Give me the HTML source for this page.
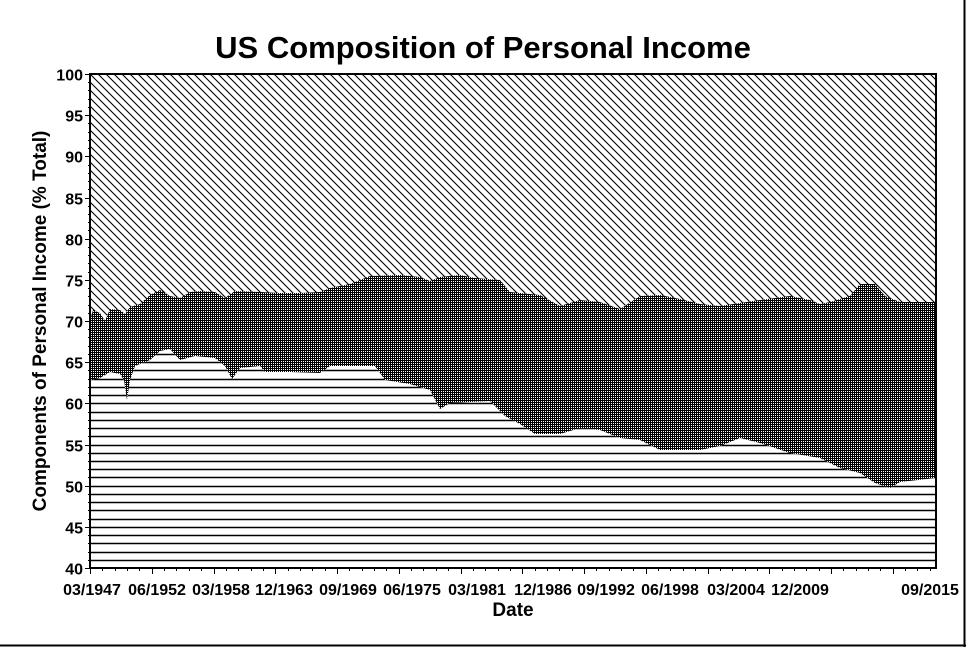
<!DOCTYPE html>
<html><head><meta charset="utf-8"><style>
html,body{margin:0;padding:0;background:#fff;}
svg{display:block;}
text{font-family:"Liberation Sans",sans-serif;font-weight:bold;fill:#000;}
</style></head><body>
<svg width="966" height="647" viewBox="0 0 966 647" xmlns="http://www.w3.org/2000/svg">
<defs>
<pattern id="hatch" width="8" height="8" patternUnits="userSpaceOnUse">
<path d="M-2,-2 L10,10 M-2,6 L2,10 M6,-2 L10,2" stroke="#000" stroke-width="1.1"/>
</pattern>
<pattern id="dots" width="2" height="2" patternUnits="userSpaceOnUse">
<rect width="2" height="2" fill="#000"/><rect x="1" y="1" width="1" height="1" fill="#fff"/>
</pattern>
<clipPath id="plot"><rect x="90" y="74" width="846" height="494"/></clipPath>
<clipPath id="low"><polygon points="936,478 900,482 890,488 875,483 860,473 840,468 820,458 790,453 760,443 740,438 720,446 700,450 660,450 640,440 620,438 600,430 580,428 560,434 535,434 520,424 505,416 490,401 470,402 450,403 440,409 430,390 420,387 410,384 385,380 375,366 330,366 320,373 290,372 265,372 260,366 240,368 232,379 225,366 215,358 195,356 180,360 170,349 160,351 150,360 135,366 130,380 127,400 124,380 120,374 110,372 100,378 90,380 90,568 936,568"/></clipPath>
</defs>
<rect x="0" y="0" width="966" height="647" fill="#fff"/>
<line x1="0" y1="645.5" x2="966" y2="645.5" stroke="#000" stroke-width="2"/>
<line x1="964.5" y1="0" x2="964.5" y2="647" stroke="#000" stroke-width="2"/>
<text x="483" y="58" font-size="31" text-anchor="middle">US Composition of Personal Income</text>
<g clip-path="url(#plot)">
<rect x="90" y="74" width="846" height="494" fill="url(#hatch)"/>
<polygon fill="url(#dots)" points="90,321 93,310 100,313 105,321 110,309 120,310 125,314 130,307 140,304 150,295 160,290 170,296 180,298 190,292 200,291 215,292 225,298 235,291 260,292 280,293 300,293 320,292 330,288 350,284 370,276 400,275 420,277 430,281 440,277 460,275 475,278 500,280 510,292 540,295 560,306 580,300 600,302 620,309 640,296 660,295 680,299 700,304 720,306 740,303 760,300 790,296 810,300 820,304 830,302 850,296 860,284 875,284 885,296 900,302 936,302 936,568 90,568"/>
<polygon fill="#fff" points="936,478 900,482 890,488 875,483 860,473 840,468 820,458 790,453 760,443 740,438 720,446 700,450 660,450 640,440 620,438 600,430 580,428 560,434 535,434 520,424 505,416 490,401 470,402 450,403 440,409 430,390 420,387 410,384 385,380 375,366 330,366 320,373 290,372 265,372 260,366 240,368 232,379 225,366 215,358 195,356 180,360 170,349 160,351 150,360 135,366 130,380 127,400 124,380 120,374 110,372 100,378 90,380 90,568 936,568"/>
</g>
<g id="hl" clip-path="url(#low)" stroke="#000" stroke-width="1.5"></g>
<rect x="90" y="74" width="846" height="494" stroke="#000" fill="none" stroke-width="2"/>
<g id="ticks" stroke="#000" stroke-width="1"></g>
<g id="ylab" font-size="16" text-anchor="end"></g>
<g font-size="16" text-anchor="middle">
<text x="92" y="595">03/1947</text>
<text x="157" y="595">06/1952</text>
<text x="221" y="595">03/1958</text>
<text x="284" y="595">12/1963</text>
<text x="348" y="595">09/1969</text>
<text x="412" y="595">06/1975</text>
<text x="477" y="595">03/1981</text>
<text x="543" y="595">12/1986</text>
<text x="606" y="595">09/1992</text>
<text x="670" y="595">06/1998</text>
<text x="736" y="595">03/2004</text>
<text x="800" y="595">12/2009</text>
<text x="930" y="595">09/2015</text>
</g>
<text x="513" y="616" font-size="19" text-anchor="middle">Date</text>
<text transform="translate(46,321) rotate(-90)" font-size="19" text-anchor="middle">Components of Personal Income (% Total)</text>
<script>
var ns="http://www.w3.org/2000/svg";
var hl=document.getElementById("hl"),tk=document.getElementById("ticks"),yl=document.getElementById("ylab");
function y(v){return 568-(v-40)*494/60;}
for(var v=40;v<=100;v++){
 var yy=Math.round(y(v))+0.5;
 var l=document.createElementNS(ns,"line");l.setAttribute("x1",90);l.setAttribute("x2",936);l.setAttribute("y1",yy);l.setAttribute("y2",yy);hl.appendChild(l);
 var t=document.createElementNS(ns,"line");t.setAttribute("x1",v%5==0?85:88);t.setAttribute("x2",90);t.setAttribute("y1",yy);t.setAttribute("y2",yy);tk.appendChild(t);
 if(v%5==0){var tx=document.createElementNS(ns,"text");tx.setAttribute("x",83);tx.setAttribute("y",yy+6);tx.textContent=v;yl.appendChild(tx);}
}
for(var i=0;i<=68;i++){
 var xx=Math.round(90+i*846/68.5)+0.5;
 var t=document.createElementNS(ns,"line");t.setAttribute("x1",xx);t.setAttribute("x2",xx);t.setAttribute("y1",568);t.setAttribute("y2",i%5==0?574:571);tk.appendChild(t);
}
</script>
</svg>
</body></html>
